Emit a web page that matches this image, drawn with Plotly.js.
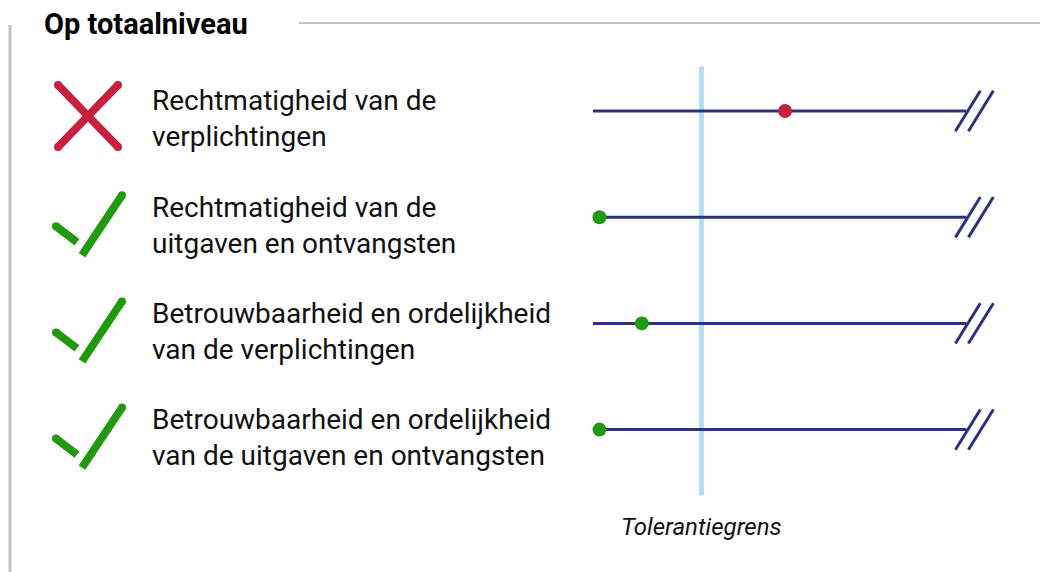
<!DOCTYPE html>
<html>
<head>
<meta charset="utf-8">
<script src="https://cdn.plot.ly/plotly-3.0.1.min.js"></script>
<style>html,body{margin:0;padding:0;background:#fff;}#chart{width:1051px;height:572px;}</style>
</head>
<body>
<div id="chart"></div>
<script>
// ---- data ----
const titleText = "Op totaalniveau";
const categories = [
  "Rechtmatigheid van de<br>verplichtingen",
  "Rechtmatigheid van de<br>uitgaven en ontvangsten",
  "Betrouwbaarheid en ordelijkheid<br>van de verplichtingen",
  "Betrouwbaarheid en ordelijkheid<br>van de uitgaven en ontvangsten"
];
// value relative to tolerance (1 = tolerantiegrens)
const values = [1.77, 0.06, 0.45, 0.06];
const passed = [false, true, true, true];
const tolerance = 1;
const toleranceLabel = "Tolerantiegrens";
const scaleStart = 0;
const scaleEnd = 3.44;

// ---- styling ----
const navy = "#2e327a";
const red = "#c8213f";
const green = "#229a10";
const blue = "#b3e0f7";
const grey = "#c3c2bb";

const rows = categories.map((c, i) => i);
const traces = [];
const shapes = [];
const annotations = [];

// horizontal scale lines
rows.forEach(i => {
  traces.push({
    x: [scaleStart, scaleEnd], y: [i, i], mode: "lines", type: "scatter",
    line: {color: navy, width: 3}, hoverinfo: "skip", showlegend: false
  });
  // break marks "//" at the end of each line (positioned relative to scaleEnd)
  [0, 0.12].forEach(off => {
    shapes.push({type: "line", xref: "x", yref: "y",
      x0: scaleEnd - 0.1 + off, y0: i + 0.19, x1: scaleEnd + 0.13 + off, y1: i - 0.19,
      line: {color: navy, width: 3}, layer: "above"});
  });
});

// tolerance line
shapes.push({type: "line", xref: "x", yref: "y", x0: tolerance, x1: tolerance,
  y0: -0.42, y1: 3.62, line: {color: blue, width: 5}, layer: "below"});

// points
traces.push({
  x: values, y: rows, mode: "markers", type: "scatter",
  marker: {size: 14, color: passed.map(p => p ? green : red)},
  hoverinfo: "skip", showlegend: false
});

// labels
categories.forEach((c, i) => {
  annotations.push({xref: "paper", yref: "y", x: 150 / 1051, y: i + 0.075,
    xanchor: "left", yanchor: "middle", align: "left", showarrow: false,
    text: c, font: {family: "Roboto", size: 28, color: "#111"}});
});

// icons (cross / tick), in pixel-based paper coordinates
function px(x) { return x / 1051; }
function py(y) { return 1 - y / 572; }
function seg(xa, ya, xb, yb, col, capA, capB) {
  shapes.push({type: "line", xref: "paper", yref: "paper",
    x0: px(xa), y0: py(ya), x1: px(xb), y1: py(yb), line: {color: col, width: 8}});
  const r = 4;
  [[xa, ya, capA], [xb, yb, capB]].forEach(([x, y, c]) => {
    if (c) shapes.push({type: "circle", xref: "paper", yref: "paper",
      x0: px(x - r), x1: px(x + r), y0: py(y - r), y1: py(y + r),
      fillcolor: col, line: {width: 0}});
  });
}
rows.forEach(i => {
  const cy = 111 + i * 106.2;
  if (!passed[i]) {
    seg(58, cy - 26, 118, cy + 36, red, true, true);
    seg(118, cy - 26, 58, cy + 36, red, true, true);
  } else {
    seg(56, cy + 9, 77, cy + 25, green, true, false);
    seg(82, cy + 38, 122, cy - 22, green, false, true);
  }
});

// frame lines
shapes.push({type: "line", xref: "paper", yref: "paper", x0: px(299), x1: px(1040),
  y0: py(23), y1: py(23), line: {color: grey, width: 2}});
shapes.push({type: "line", xref: "paper", yref: "paper", x0: px(10), x1: px(10),
  y0: py(25), y1: py(572), line: {color: grey, width: 3}});

// title
annotations.push({xref: "paper", yref: "paper", x: px(42), y: py(24), xanchor: "left",
  yanchor: "middle", showarrow: false, text: "<b>" + titleText + "</b>",
  font: {family: "Roboto", size: 29, color: "#000"}});

// tolerance label
annotations.push({xref: "x", yref: "paper", x: tolerance, y: py(527), xanchor: "center",
  yanchor: "middle", showarrow: false, text: "<i>" + toleranceLabel + "</i>",
  font: {family: "Roboto", size: 24, color: "#111"}});

const pxPerUnit = 108.5, x0px = 593;
const layout = {
  width: 1051, height: 572,
  margin: {l: 0, r: 0, t: 0, b: 0},
  paper_bgcolor: "#fff", plot_bgcolor: "#fff",
  xaxis: {range: [-x0px / pxPerUnit, (1051 - x0px) / pxPerUnit], visible: false, fixedrange: true},
  yaxis: {range: [(572 - 111) / 106.2, -111 / 106.2], visible: false, fixedrange: true},
  shapes: shapes, annotations: annotations, showlegend: false
};
Plotly.newPlot("chart", traces, layout, {displayModeBar: false, staticPlot: true});
</script>
</body>
</html>
